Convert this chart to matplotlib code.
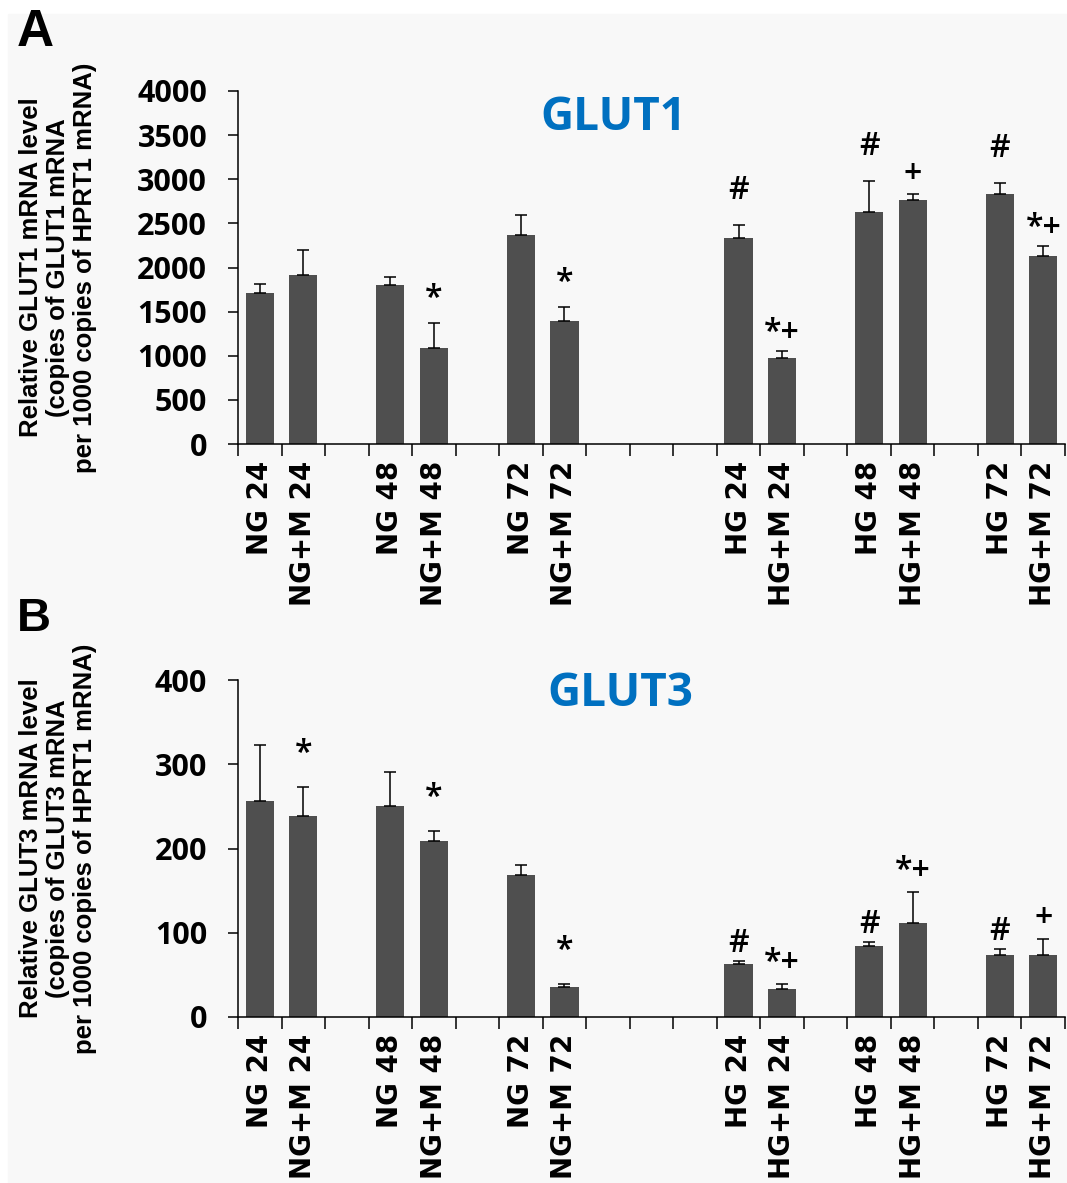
import matplotlib

matplotlib.use("Agg")
import matplotlib.pyplot as plt
import numpy as np
from matplotlib.patches import Rectangle
from matplotlib.ticker import MultipleLocator, FixedLocator

nan = np.nan

categories = ["NG 24", "NG+M 24", "", "NG 48", "NG+M 48", "", "NG 72", "NG+M 72",
              "", "", "", "HG 24", "HG+M 24", "", "HG 48", "HG+M 48", "",
              "HG 72", "HG+M 72"]

glut1_mean = [1713, 1910, nan, 1803, 1089, nan, 2367, 1392, nan, nan, nan,
              2337, 980, nan, 2624, 2764, nan, 2835, 2125]
glut1_err = [100, 287, nan, 90, 283, nan, 223, 166, nan, nan, nan,
             147, 75, nan, 352, 71, nan, 125, 117]
glut1_sig = ["", "", "", "", "*", "", "", "*", "", "", "",
             "#", "*+", "", "#", "+", "", "#", "*+"]

glut3_mean = [256, 239, nan, 251, 209, nan, 168, 36, nan, nan, nan,
              63, 33, nan, 84, 111, nan, 73, 73]
glut3_err = [67, 34, nan, 40, 12, nan, 12, 3, nan, nan, nan,
             3, 6, nan, 4.5, 37, nan, 8, 19]
glut3_sig = ["", "*", "", "", "*", "", "", "*", "", "", "",
             "#", "*+", "", "#", "*+", "", "#", "+"]

BAR = "#4f4f4f"
BLUE = "#0070c0"
W, H = 1067, 1183

fig = plt.figure(figsize=(W / 100, H / 100), dpi=100, facecolor="white")
fig.patches.append(Rectangle((8 / W, 0), 1, 1 - 14 / H, transform=fig.transFigure,
                             color="#f8f8f8", zorder=-10))


def panel(rect, mean, err, sig, ymax, ystep, title, title_xy, ylab, letter,
          letter_y, letter_size, sig_off):
    ax = fig.add_axes(rect)
    ax.set_facecolor("none")
    x = np.arange(len(categories))
    mean = np.array(mean, dtype=float)
    err = np.array(err, dtype=float)
    ok = np.isfinite(mean)
    ax.bar(x[ok], mean[ok], width=0.65, color=BAR, zorder=2)
    ax.errorbar(x[ok], mean[ok], yerr=[np.zeros(ok.sum()), err[ok]], fmt="none",
                ecolor="black", elinewidth=1.1, capsize=4, capthick=1.1, zorder=3)
    for xi, m, e, s in zip(x, mean, err, sig):
        if not s:
            continue
        ax.annotate(s, (xi, m + e), xytext=(0, sig_off[s] * 0.72),
                    textcoords="offset points", ha="center", va="baseline",
                    fontsize=23, fontfamily="Open Sans", fontweight="semibold",
                    color="black")

    ax.set_xlim(-0.5, len(categories) - 0.5)
    ax.set_ylim(0, ymax)
    ax.yaxis.set_major_locator(MultipleLocator(ystep))
    ax.set_xticks(x)
    ax.set_xticklabels(categories, rotation=90, fontsize=20, fontweight="bold",
                       fontfamily="DejaVu Sans", va="top", ha="center")
    ax.xaxis.set_minor_locator(FixedLocator(np.arange(-0.5, len(categories), 1.0)))
    ax.tick_params(axis="x", which="major", length=0, pad=12)
    ax.tick_params(axis="x", which="minor", length=8.6, width=1.1, direction="out")
    ax.tick_params(axis="y", length=7.2, width=1.1, direction="out", pad=15)
    for lbl in ax.get_yticklabels():
        lbl.set_fontsize(22)
        lbl.set_fontweight("bold")
        lbl.set_fontfamily("Open Sans")
    for side in ("top", "right"):
        ax.spines[side].set_visible(False)
    for side in ("left", "bottom"):
        ax.spines[side].set_linewidth(1.1)

    ax.text(title_xy[0], title_xy[1], title, transform=ax.transAxes, ha="center",
            va="center", fontsize=33, fontweight="bold", color=BLUE,
            fontfamily="Open Sans")

    cy = rect[1] + rect[3] / 2
    fig.text(58 / W, cy, ylab, rotation=90, ha="center", va="center",
             multialignment="center", fontsize=18.5, fontweight="bold",
             fontfamily="Liberation Sans", linespacing=1.15)
    fig.text(17 / W, letter_y, letter, ha="left", va="top", fontsize=letter_size,
             fontweight="bold", fontfamily="Liberation Sans")
    return ax


panel([238 / W, 1 - 444 / H, 827 / W, 353 / H], glut1_mean, glut1_err, glut1_sig,
      4000, 500, "GLUT1", (0.4535, 0.926),
      "Relative GLUT1 mRNA level\n(copies of GLUT1 mRNA\nper 1000 copies of HPRT1 mRNA)",
      "A", 1 - 8 / H, 37, {"#": 26, "*": 15, "+": 11, "*+": 9})

panel([238 / W, 1 - 1017 / H, 827 / W, 337 / H], glut3_mean, glut3_err, glut3_sig,
      400, 100, "GLUT3", (0.462, 0.961),
      "Relative GLUT3 mRNA level\n(copies of GLUT3 mRNA\nper 1000 copies of HPRT1 mRNA)",
      "B", 1 - 597 / H, 34, {"#": 9, "*": 24, "+": 12, "*+": 12})

fig.savefig("out.png", dpi=100, facecolor=fig.get_facecolor())
